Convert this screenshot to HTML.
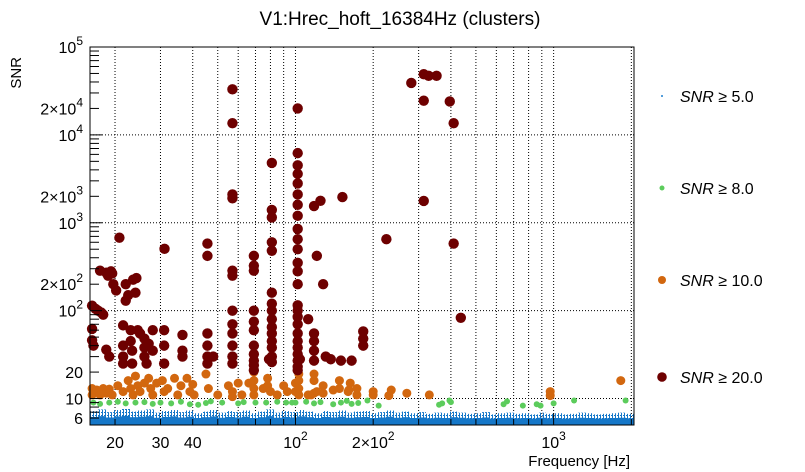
<!DOCTYPE html>
<html><head><meta charset="utf-8"><style>
body{margin:0;background:#fff;width:805px;height:472px;overflow:hidden;font-family:"Liberation Sans",sans-serif}
svg{display:block}
</style></head><body>
<svg id="chart" width="805" height="472" xmlns="http://www.w3.org/2000/svg">
<defs><pattern id="speck" width="3" height="3" patternUnits="userSpaceOnUse"><rect width="1" height="3" fill="#1577c8"/><rect x="2" y="1" width="1" height="1" fill="#1577c8"/></pattern></defs>
<text x="400" y="25" text-anchor="middle" font-size="19">V1:Hrec_hoft_16384Hz (clusters)</text>
<text transform="translate(21,57) rotate(-90)" text-anchor="end" font-size="15">SNR</text>
<text x="630" y="466" text-anchor="end" font-size="15">Frequency [Hz]</text>
<g id="grid"></g><g id="blue"></g><g id="pts"></g><g id="axes"></g><g id="legend"></g>
</svg>
<script>
const xDomain=[16,2048], yDomain=[5,100000];
const blueLevels=[7.2,7.5,7.0,7.4,7.6,7.1,7.3,7.5,6.9,7.2,7.4,7.0,7.3,6.8,7.1,7.4,6.9,7.2,7.0,7.3,6.8,7.1,7.5,6.9,7.2,7.0,7.4,7.1,6.8,7.2,7.0,7.3,6.9,7.1,7.2,6.8,7.0,7.3,6.9,7.1,6.8,7.0,6.7,6.9,6.8,7.1,6.9,6.7,6.8,7.0,6.6,6.8,6.9,6.7,6.8,6.6,6.9,6.7,6.8,6.6,6.7,6.9,6.8,6.6,6.7,6.8,6.9,6.7];
const greenF=[16.5,17.5,19,20.5,22,24,26,28,30,33,36,39,42,45,47,52,60,63,70,77,85,92,97,100,110,118,125,140,150,158,165,175,190,210,360,370,395,400,640,660,760,860,890,1000,1200,1900];
const greenS=[9,8.7,9,9.2,8.8,9,9.1,8.7,9,8.8,9.2,8.6,8.5,8.9,9.3,9,8.8,9.1,9,9,9.2,9,9,9,9.2,8.8,9.1,8.6,9,9.4,8.7,8.9,9.5,8.3,8.5,8.8,9.5,9.1,8.6,9.3,8.3,8.6,8.3,8.8,9.5,9.5];
const orangeF=[16.3,16.3,17,17.5,18,18.5,19,19.5,20.5,21.5,22.5,23,23.5,24,24.5,25,26,27,27.5,28,29,30.5,31,32,34,35,36,38,39,40,40.5,45,46,50,55,57,57,60,62,66,69,69,69,69,75,78,78,80,85,90,93,100,100,103,103,103,103,112,115,118,118,118,121,128,128,140,148,148,160,161,163,173,173,200,200,230,235,270,330,970,970,1820];
const orangeS=[13,11,12.5,11,13,11.5,12.8,11,14,12,16,13,11,18,14,12,15,17,13,11,15,16,12,13,17,11,14,17,12,14.5,11,19,13,11,14,12,10.5,15,11,15,20,16,13,11,13,17,14,12,11,14,12,12,15,19,16,13,11,11,11,11.5,16,19,12,11.5,14,12.5,13,16,12,12.5,15,11,13,12,11,10.8,12.5,11.5,11,12,10.8,16];
const redF=[16.3,16.3,16.3,16.5,16.8,17.2,17.5,17.7,18,18.5,18.8,18.5,19,19.3,19.5,19.7,20.2,20.8,21.5,21.5,21.5,21.5,22,22,22.5,23,23,23.3,23.3,23.5,24,24.2,24.5,25,26,26,26,26.5,27,28,28,31.1,31,31,31,36.5,36.5,36.5,45.6,45.6,45.6,45.6,45.6,45.6,48,57,57,57,57,57,57,57,57,57,57,57,57,69,69,69,69,69,69,69,69,69,69,69,79,81,81,81,81,81,81,81,81,81,81,81,81,81,81,81,102,102,102,102,102,102,102,102,102,102,102,102,102,102,102,102,102,102,102,102,102,102,102,102,102,104,112,118,121,125,128,118,118,118,118,131,137,152,150,165,183,183,183,225,281,314,314,314,328,352,396,410,410,437];
const redS=[114,62,46,40,105,100,285,95,90,270,250,36,30,280,265,200,170,676,68,40,30,25,130,200,150,60,45,35,25,225,160,235,60,55,48,38,30,25,42,60,35,505,60,40,25,53,35,30,580,420,55,40,30,25,30,33000,13600,2100,1900,285,250,100,70,55,40,30,25,420,325,285,100,75,60,40,32,27,24,21,28,4800,1400,1150,600,480,160,120,100,80,65,55,45,38,30,26,20000,6200,4500,3600,2800,2100,1600,1200,850,650,500,350,280,200,115,100,85,70,55,45,38,32,27,23,21,28,80,1550,420,1780,200,55,45,35,27,30,28,1960,27,27,58,48,40,650,39000,24500,49000,1770,47000,47000,24000,13600,580,83];
const xTickVals=[20,30,40,100,200,1000];
const xTickLabels=["20","30","40","10^2","2×10^2","10^3"];
const yTickVals=[6,10,20,100,200,1000,2000,10000,20000,100000];
const yTickLabels=["6","10","20","10^2","2×10^2","10^3","2×10^3","10^4","2×10^4","10^5"];
const legendLabels=["5.0","8.0","10.0","20.0"];
const L=90,R=634,T=47,B=425;
const NS="http://www.w3.org/2000/svg";
function X(f){return L+(Math.log10(f)-Math.log10(xDomain[0]))/(Math.log10(xDomain[1])-Math.log10(xDomain[0]))*(R-L);}
function Y(s){return B-(Math.log10(s)-Math.log10(yDomain[0]))/(Math.log10(yDomain[1])-Math.log10(yDomain[0]))*(B-T);}
function mk(tag,attrs,parent){const e=document.createElementNS(NS,tag);for(const k in attrs)e.setAttribute(k,attrs[k]);parent.appendChild(e);return e;}
function fmt(s){const p=s.split('^');return p.length<2?p[0]:p[0]+'<tspan dy="-8" font-size="12">'+p[1]+'</tspan>';}
const grid=document.getElementById('grid'),axes=document.getElementById('axes'),blue=document.getElementById('blue'),pts=document.getElementById('pts'),leg=document.getElementById('legend');
for(let d=10;d<=1000;d*=10)for(let m=1;m<10;m++){const f=d*m;if(f<=xDomain[0]||f>=xDomain[1])continue;
 const g=mk('line',{x1:X(f),x2:X(f),y1:T,y2:B,stroke:'#000','stroke-width':1,'stroke-dasharray':'1,2'},grid);
 
 
 const t=mk('line',{x1:X(f),x2:X(f),y1:B,y2:B-(m==1?12:6),stroke:'#000'},axes);
 
 }
for(let d=10;d<100000;d*=10){const g=mk('line',{x1:L,x2:R,y1:Y(d),y2:Y(d),stroke:'#000','stroke-width':1,'stroke-dasharray':'1,2'},grid);
 
 }
for(let d=1;d<=100000;d*=10)for(let m=1;m<10;m++){const v=d*m;if(v<yDomain[0]||v>yDomain[1])continue;
 const t=mk('line',{x1:L,x2:L+(m==1?12:9),y1:Y(v),y2:Y(v),stroke:'#000'},axes);
 
 }
const bw=(R-L)/blueLevels.length;
blueLevels.forEach((v,i)=>{const x0=L+i*bw;
 const r=mk('rect',{x:x0,y:Y(v),width:bw,height:B-Y(v),fill:'url(#speck)'},blue);
 
 
 const h=Y(Math.sqrt(v*5.3));
 const r2=mk('rect',{x:x0,y:h,width:bw,height:B-h,fill:'#1577c8'},blue);
 
 });
function dots(F,S,r,col,name){F.forEach((f,i)=>{const c=mk('circle',{cx:X(f),cy:Y(S[i]),r:r,fill:col},pts);
 
 });}
dots(greenF,greenS,3,'#5ccc5c','snr-8-cluster');
dots(orangeF,orangeS,4.5,'#d2670f','snr-10-cluster');
dots(redF,redS,5.2,'#6e0000','snr-20-cluster');
const fr=mk('rect',{x:L,y:T,width:R-L,height:B-T,fill:'none',stroke:'#000','stroke-width':1},axes);


xTickVals.forEach((v,i)=>{const t=mk('text',{x:X(v),y:448,'text-anchor':'middle','font-size':16},axes);t.innerHTML=fmt(xTickLabels[i]);
 
 });
yTickVals.forEach((v,i)=>{const t=mk('text',{x:83,y:Y(v)+6,'text-anchor':'end','font-size':16},axes);t.innerHTML=fmt(yTickLabels[i]);
 
 });
const lc=['#1e7fd0','#5ccc5c','#d2670f','#6e0000'],lr=[1,2.5,4,4.8],ly=[96,188,280,377];
legendLabels.forEach((s,i)=>{const c=mk('circle',{cx:662,cy:ly[i],r:lr[i],fill:lc[i]},leg);
 
 
 const t=mk('text',{x:680,y:ly[i]+6,'font-size':16},leg);
 t.innerHTML='<tspan font-style="italic">SNR</tspan> ≥ '+s;
 
 });
</script>
</body></html>
